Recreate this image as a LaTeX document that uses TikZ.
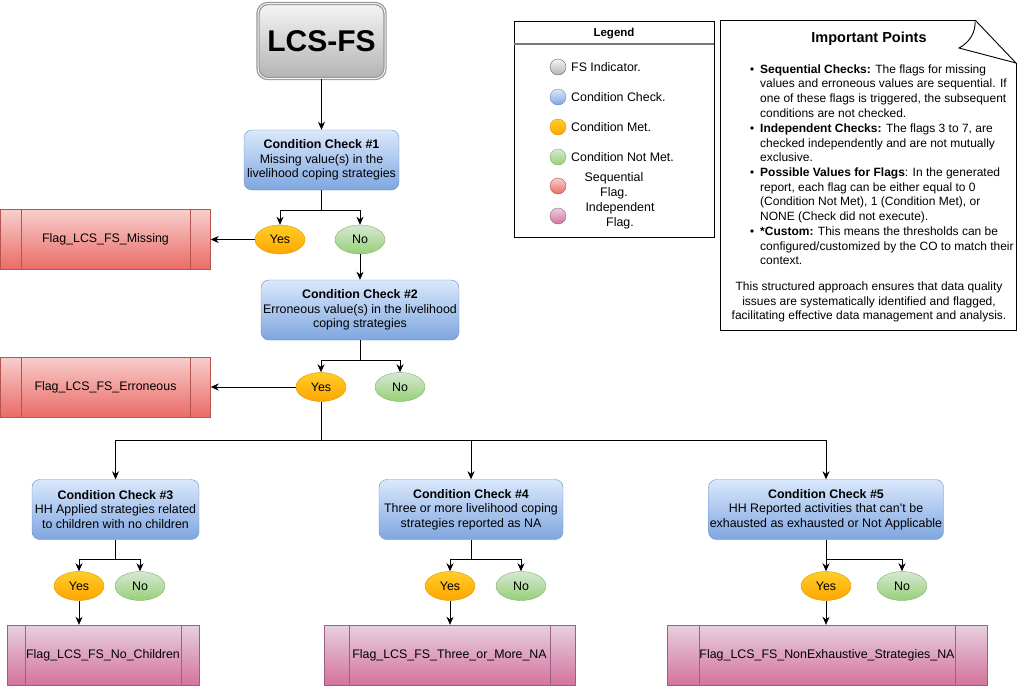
\documentclass[tikz,border=0pt]{standalone}
\usepackage{fontspec}
\setmainfont{Liberation Sans}
\usetikzlibrary{shapes.geometric,arrows.meta}
\definecolor{ccT}{HTML}{DAE8FC}
\definecolor{ccB}{HTML}{7EA6E0}
\definecolor{ccD}{HTML}{6C8EBF}
\definecolor{yT}{HTML}{FFCD28}
\definecolor{yB}{HTML}{FFA500}
\definecolor{yD}{HTML}{D79B00}
\definecolor{nT}{HTML}{D5E8D4}
\definecolor{nB}{HTML}{97D077}
\definecolor{nD}{HTML}{82B366}
\definecolor{rT}{HTML}{F8CECC}
\definecolor{rB}{HTML}{EA6B66}
\definecolor{rD}{HTML}{B85450}
\definecolor{pT}{HTML}{E6D0DE}
\definecolor{pB}{HTML}{D5739D}
\definecolor{pD}{HTML}{996185}
\definecolor{gT}{HTML}{F5F5F5}
\definecolor{gB}{HTML}{B3B3B3}
\definecolor{gD}{HTML}{666666}
\begin{document}
\begin{tikzpicture}[x=1pt,y=-1pt,
  base/.style={font=\fontsize{12.4}{14.6}\selectfont},
  cc/.style={base,rectangle,rounded corners=8pt,draw=ccD,top color=ccT,bottom color=ccB,align=center,inner sep=1pt,minimum height=60},
  yes/.style={base,ellipse,draw=yD,top color=yT,bottom color=yB,minimum width=50,minimum height=29,inner sep=0pt},
  no/.style={base,ellipse,draw=nD,top color=nT,bottom color=nB,minimum width=50,minimum height=29,inner sep=0pt},
  sflag/.style={base,rectangle,draw=rD,top color=rT,bottom color=rB,minimum height=60,inner sep=0pt},
  iflag/.style={base,rectangle,draw=pD,top color=pT,bottom color=pB,minimum height=60,inner sep=0pt},
  arr/.style={-{Stealth[length=8pt,width=7pt,inset=2.5pt]},line width=0.9pt},
  ln/.style={line width=0.9pt},
  txt/.style={font=\fontsize{12}{14.6}\selectfont,inner sep=0pt,align=left,anchor=north west},
  dot/.style={circle,minimum size=16,inner sep=0pt},
]
\useasboundingbox (0,0) rectangle (1020,686);

% start node
\node[rectangle,rounded corners=10pt,draw={rgb,255:red,150;green,150;blue,150},line width=1.2pt,double=gT,double distance=1pt,top color=gT,bottom color=gB,minimum width=127,minimum height=75,inner sep=0pt,font=\fontsize{30}{36}\selectfont\bfseries] (lcs) at (321.5,41) {LCS-FS};

% condition checks
\node[cc,minimum width=155] (cc1) at (321.5,160) {\textbf{Condition Check \#1}\\Missing value(s) in the\\livelihood coping strategies};
\node[cc,minimum width=198] (cc2) at (360,310) {\textbf{Condition Check \#2}\\Erroneous value(s) in the livelihood\\coping strategies};
\node[cc,minimum width=167] (cc3) at (115.5,509.5) {\textbf{Condition Check \#3}\\HH Applied strategies related\\to children with no children};
\node[cc,minimum width=184] (cc4) at (471,509.5) {\textbf{Condition Check \#4}\\Three or more livelihood coping\\strategies reported as NA};
\node[cc,minimum width=235] (cc5) at (826,509.5) {\textbf{Condition Check \#5}\\HH Reported activities that can't be\\exhausted as exhausted or Not Applicable};

% yes / no
\node[yes] (y1) at (280,239.5) {Yes};
\node[no]  (n1) at (360,239.5) {No};
\node[yes] (y2) at (321,387) {Yes};
\node[no]  (n2) at (400,387) {No};
\node[yes] (y3) at (79,586) {Yes};
\node[no]  (n3) at (140,586) {No};
\node[yes] (y4) at (450,586) {Yes};
\node[no]  (n4) at (521,586) {No};
\node[yes] (y5) at (826,586) {Yes};
\node[no]  (n5) at (902,586) {No};

% flags
\node[sflag,minimum width=210] (f1) at (105.5,239.5) {Flag\_LCS\_FS\_Missing};
\node[sflag,minimum width=210] (f2) at (105.5,387) {Flag\_LCS\_FS\_Erroneous};
\node[iflag,minimum width=192] (f3) at (103,655) {Flag\_LCS\_FS\_No\_Children};
\node[iflag,minimum width=251] (f4) at (449.5,655) {Flag\_LCS\_FS\_Three\_or\_More\_NA};
\node[iflag,minimum width=320] (f5) at (827,655) {Flag\_LCS\_FS\_NonExhaustive\_Strategies\_NA};
\foreach \f/\d/\c in {f1/21/rD,f2/21/rD,f3/18/pD,f4/25/pD,f5/32/pD}{
  \draw[\c] ([xshift=\d]\f.north west) -- ([xshift=\d]\f.south west);
  \draw[\c] ([xshift=-\d]\f.north east) -- ([xshift=-\d]\f.south east);
}

% connectors
\draw[arr] (lcs) -- (cc1);
\coordinate (b1) at (321.5,210);
\draw[ln] (cc1.south) -- (b1);
\draw[arr] (b1) -| (y1.north);
\draw[arr] (b1) -| (n1.north);
\draw[arr] (y1) -- (f1);
\draw[arr] (n1) -- (cc2);
\coordinate (b2) at (360,360);
\draw[ln] (cc2.south) -- (b2);
\draw[arr] (b2) -| (y2.north);
\draw[arr] (b2) -| (n2.north);
\draw[arr] (y2) -- (f2);
\coordinate (b3) at (321,440);
\draw[ln] (y2.south) -- (b3);
\draw[arr] (b3) -| (cc3.north);
\draw[arr] (b3) -| (cc4.north);
\draw[arr] (b3) -| (cc5.north);
\coordinate (b4) at (115.5,559);
\draw[ln] (cc3.south) -- (b4);
\draw[arr] (b4) -| (y3.north);
\draw[arr] (b4) -| (n3.north);
\draw[arr] (y3.south) -- (y3.south |- f3.north);
\coordinate (b5) at (471,559);
\draw[ln] (cc4.south) -- (b5);
\draw[arr] (b5) -| (y4.north);
\draw[arr] (b5) -| (n4.north);
\draw[arr] (y4.south) -- (y4.south |- f4.north);
\coordinate (b6) at (826,559);
\draw[ln] (cc5.south) -- (b6);
\draw[arr] (b6) -| (y5.north);
\draw[arr] (b6) -| (n5.north);
\draw[arr] (y5.south) -- (y5.south |- f5.north);

% legend
\draw[line width=0.9pt] (514,21) rectangle (714,237);
\draw[line width=1.8pt,draw={rgb,255:red,120;green,120;blue,120}] (514,44) -- (714,44);
\node[base,font=\fontsize{11.5}{14}\selectfont\bfseries] (lgt) at (614,33.5) {Legend};
\node[dot,draw=gD,top color=gT,bottom color=gB] (d1) at (558,67) {};
\node[dot,draw=ccD,top color=ccT,bottom color=ccB] (d2) at (558,97) {};
\node[dot,draw=yD,top color=yT,bottom color=yB] (d3) at (558,127) {};
\node[dot,draw=nD,top color=nT,bottom color=nB] (d4) at (558,157) {};
\node[dot,draw=rD,top color=rT,bottom color=rB] (d5) at (558,186) {};
\node[dot,draw=pD,top color=pT,bottom color=pB] (d6) at (558,216) {};
\node[base,anchor=west,inner sep=0pt] (l1) at (571,67) {FS Indicator.};
\node[base,anchor=west,inner sep=0pt] (l2) at (571,97) {Condition Check.};
\node[base,anchor=west,inner sep=0pt] (l3) at (571,127) {Condition Met.};
\node[base,anchor=west,inner sep=0pt] (l4) at (571,157) {Condition Not Met.};
\node[base,align=center,inner sep=0pt] (l5) at (614,186) {Sequential\\Flag.};
\node[base,align=center,inner sep=0pt] (l6) at (620,216) {Independent\\Flag.};

% important points note
\draw[line width=0.9pt] (975,20) -- (720,20) -- (720,330) -- (1016,330) -- (1016,63);
\draw[line width=0.9pt] (975,20) -- (1016,63);
\draw[line width=0.9pt] (975,20) .. controls (976,32) and (970,42) .. (959,48) -- (1016,63);
\node[base,font=\fontsize{14.5}{17}\selectfont\bfseries] (ipt) at (869,39) {Important Points};
\node[txt] (p1) at (760,64.5) {\textbf{Sequential Checks:} The flags for missing\\values and erroneous values are sequential. If\\one of these flags is triggered, the subsequent\\conditions are not checked.};
\node[txt] (p2) at (760,123.5) {\textbf{Independent Checks:} The flags 3 to 7, are\\checked independently and are not mutually\\exclusive.};
\node[txt] (p3) at (760,167.5) {\textbf{Possible Values for Flags}: In the generated\\report, each flag can be either equal to 0\\(Condition Not Met), 1 (Condition Met), or\\NONE (Check did not execute).};
\node[txt] (p4) at (760,226.5) {\textbf{*Custom:} This means the thresholds can be\\configured/customized by the CO to match their\\context.};
\node[txt,align=center,anchor=north] (p5) at (869,281.5) {This structured approach ensures that data quality\\issues are systematically identified and flagged,\\facilitating effective data management and analysis.};
\foreach \yy in {69,128,172,231}{
  \fill (752,\yy) circle (1.8);
}
\end{tikzpicture}
\end{document}
